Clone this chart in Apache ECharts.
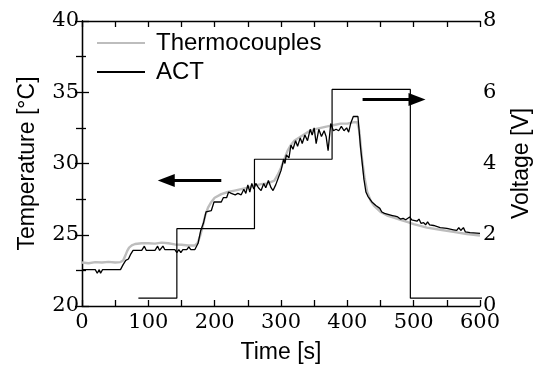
<!DOCTYPE html>
<html>
<head>
<meta charset="utf-8">
<script src="https://cdn.jsdelivr.net/npm/echarts@6/dist/echarts.min.js"></script>
<style>html,body{margin:0;padding:0;background:#fff;}#c{width:538px;height:365px;}</style>
</head>
<body>
<div id="c"></div>
<script>
// ---- data ----
const xTicks = [0, 100, 200, 300, 400, 500, 600];
const tempTicks = [20, 25, 30, 35, 40];
const voltTicks = [0, 2, 4, 6, 8];

const thermoTime = [0,10,20,30,40,50,58,62,65,68,71,75,80,90,100,110,120,130,140,150,160,170,174,178,182,186,190,195,200,210,220,230,240,250,260,270,280,290,295,300,305,310,315,320,330,340,350,360,370,380,390,400,410,415,418,422,426,430,435,440,450,460,470,480,490,500,520,540,560,580,600];
const thermoTemp = [23.05,23.0,23.08,23.05,23.1,23.05,23.08,23.2,23.5,23.85,24.1,24.25,24.35,24.4,24.4,24.38,24.45,24.4,24.32,24.3,24.25,24.25,24.4,24.9,25.6,26.4,26.9,27.3,27.6,27.85,28.0,28.1,28.2,28.3,28.45,28.55,28.6,28.8,29.2,29.7,30.3,30.9,31.3,31.6,31.9,32.2,32.4,32.5,32.6,32.7,32.8,32.8,32.9,32.9,32.3,30.4,29.0,28.0,27.4,27.05,26.6,26.35,26.2,26.05,25.9,25.75,25.5,25.35,25.2,25.05,24.95];

const actTime = [0,20,23,26,28,31,58,62,66,70,73,77,90,94,97,110,114,117,120,122,125,140,143,146,149,152,158,161,164,170,175,179,183,187,190,195,199,205,210,213,218,221,225,228,231,235,240,244,247,250,253,256,259,262,266,270,274,277,281,285,288,292,296,300,304,306,308,312,315,318,322,325,329,332,336,340,344,347,350,353,357,361,365,368,371,375,379,383,387,391,395,399,402,405,409,416,420,425,428,431,434,437,440,443,446,449,452,456,460,464,468,472,476,480,484,488,491,494,497,500,505,508,511,515,518,521,524,530,540,550,560,565,568,571,575,578,585,600];
const actTemp = [22.55,22.55,22.3,22.55,22.3,22.55,22.55,22.9,23.2,23.3,23.6,23.9,23.9,24.2,23.9,23.9,24.2,23.9,23.9,24.2,23.95,23.95,23.75,23.95,23.75,23.95,23.95,24.15,23.95,23.95,24.4,25.3,25.8,26.6,26.7,26.7,27.3,27.3,27.3,27.6,27.6,28.0,27.9,28.0,27.8,27.9,27.8,28.2,27.9,28.5,28.0,28.6,28.2,28.6,28.3,28.1,28.6,28.3,28.8,28.3,28.1,28.5,29.0,29.5,30.3,30.0,30.6,30.4,31.3,31.0,31.6,31.2,31.8,31.4,32.0,31.6,32.4,32.0,32.5,31.4,32.4,31.9,32.3,31.9,30.9,32.8,32.3,32.4,32.3,32.6,32.3,32.5,32.2,32.8,33.3,33.3,31.1,28.9,28.0,27.7,27.6,27.3,27.4,27.05,27.1,26.85,26.6,26.5,26.45,26.4,26.35,26.3,26.25,26.1,26.15,26.05,26.0,26.25,26.05,26.05,25.95,26.1,25.8,25.85,25.7,25.9,25.7,25.65,25.5,25.45,25.35,25.3,25.5,25.3,25.5,25.2,25.15,25.1];

const voltTime = [85,143,143,260,260,377,377,495,495,690];
const voltValue = [0.22,0.22,2.17,2.17,4.12,4.12,6.08,6.08,0.22,0.22];

// arrow annotations (data coordinates)
const leftArrow = [[210, 28.8], [127, 28.8]];
const rightArrow = [[423, 34.5], [505, 34.5]];

const zip = (a, b) => a.map((v, i) => [v, b[i]]);

const sans = "'Liberation Sans', Arial, sans-serif";
const serif = "'DejaVu Serif'";
const axisLineStyle = { color: '#000', width: 1.3 };

const chart = echarts.init(document.getElementById('c'), null, { renderer: 'canvas' });
chart.setOption({
  animation: false,
  backgroundColor: '#fff',
  grid: { left: 82, right: 58, top: 21, bottom: 59, containLabel: false, outerBoundsMode: 'none' },
  legend: {
    left: 97, top: 31, padding: 0, orient: 'vertical', itemWidth: 48, itemHeight: 2, itemGap: 5,
    icon: 'rect',
    data: ['Thermocouples', 'ACT'],
    textStyle: { fontFamily: sans, fontSize: 24, color: '#000', padding: [0, 0, 0, 6], lineHeight: 24 }
  },
  xAxis: [{
    type: 'value', min: 0, max: 600, interval: 100, position: 'bottom',
    name: 'Time [s]', nameLocation: 'middle', nameGap: 35,
    nameTextStyle: { fontFamily: sans, fontSize: 23, color: '#000' },
    axisLine: { lineStyle: axisLineStyle },
    axisTick: { inside: true, length: 6, lineStyle: axisLineStyle },
    minorTick: { show: true, splitNumber: 2, length: 6, lineStyle: axisLineStyle },
    axisLabel: { fontFamily: serif, fontSize: 21, color: '#000', margin: 6,
      formatter: v => xTicks.includes(v) ? String(v) : '' },
    splitLine: { show: false }
  }, {
    type: 'value', min: 0, max: 600, interval: 100, position: 'top',
    axisLine: { show: true, lineStyle: axisLineStyle },
    axisTick: { inside: true, length: 6, lineStyle: axisLineStyle },
    minorTick: { show: true, splitNumber: 2, length: 6, lineStyle: axisLineStyle },
    axisLabel: { show: false }, splitLine: { show: false }
  }],
  yAxis: [{
    type: 'value', min: 20, max: 40, interval: 5, position: 'left',
    name: 'Temperature [°C]', nameLocation: 'middle', nameGap: 43, nameRotate: 90,
    nameTextStyle: { fontFamily: sans, fontSize: 23, color: '#000' },
    axisLine: { show: true, lineStyle: axisLineStyle },
    axisTick: { show: true, inside: true, length: 7, lineStyle: axisLineStyle },
    minorTick: { show: true, splitNumber: 2, length: 4, lineStyle: axisLineStyle },
    axisLabel: { fontFamily: serif, fontSize: 21, color: '#000', margin: 3,
      formatter: v => tempTicks.includes(v) ? String(v) : '' },
    splitLine: { show: false }
  }, {
    type: 'value', min: 0, max: 8, interval: 2, position: 'right',
    name: 'Voltage [V]', nameLocation: 'middle', nameGap: 30, nameRotate: 90,
    nameTextStyle: { fontFamily: sans, fontSize: 23, color: '#000' },
    axisLine: { show: true, lineStyle: axisLineStyle },
    axisTick: { show: true, inside: true, length: 7, lineStyle: axisLineStyle },
    minorTick: { show: true, splitNumber: 2, length: 6, lineStyle: axisLineStyle },
    axisLabel: { fontFamily: serif, fontSize: 21, color: '#000', margin: 3,
      formatter: v => voltTicks.includes(v) ? String(v) : '' },
    splitLine: { show: false }
  }],
  series: [{
    name: 'Thermocouples', type: 'line', xAxisIndex: 0, yAxisIndex: 0,
    data: zip(thermoTime, thermoTemp), showSymbol: false, symbol: 'none',
    lineStyle: { color: '#bdbdbd', width: 2.4 }, itemStyle: { color: '#bdbdbd' },
    z: 2
  }, {
    name: 'ACT', type: 'line', xAxisIndex: 0, yAxisIndex: 0,
    data: zip(actTime, actTemp), showSymbol: false, symbol: 'none',
    lineStyle: { color: '#000', width: 1.3 }, itemStyle: { color: '#000' },
    z: 3,
    markLine: {
      silent: true, symbol: ['none', 'triangle'], symbolSize: [13, 17],
      label: { show: false },
      lineStyle: { color: '#000', width: 3, type: 'solid' },
      itemStyle: { color: '#000' },
      data: [
        [{ coord: leftArrow[0] }, { coord: leftArrow[1] }],
        [{ coord: rightArrow[0] }, { coord: rightArrow[1] }]
      ]
    }
  }, {
    name: 'Voltage', type: 'line', xAxisIndex: 0, yAxisIndex: 1,
    data: zip(voltTime, voltValue), showSymbol: false, symbol: 'none', clip: false,
    lineStyle: { color: '#000', width: 1.2 }, z: 3
  }]
});
</script>
</body>
</html>
